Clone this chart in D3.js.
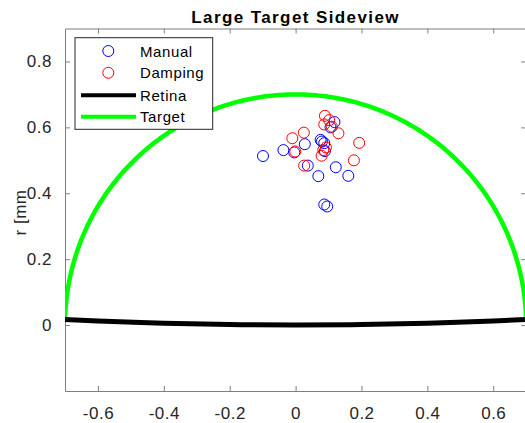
<!DOCTYPE html>
<html>
<head>
<meta charset="utf-8">
<script src="https://cdn.jsdelivr.net/npm/d3@7"></script>
<style>
  html, body { margin: 0; padding: 0; background: #fff; }
  svg { display: block; font-family: "Liberation Sans", Arial, sans-serif; }
</style>
</head>
<body>
<svg id="chart" width="525" height="423"></svg>
<script>
// Eye positions (lateral x, radial r in mm) for the two procedures
const manualX  = [-0.099, -0.037, -0.004, 0.028, 0.037, 0.069, 0.076, 0.080, 0.087, 0.089, 0.118, 0.106, 0.122, 0.160, 0.087, 0.096];
const manualR  = [ 0.513,  0.531,  0.524, 0.549, 0.484, 0.452, 0.562, 0.557, 0.552, 0.528, 0.616, 0.600, 0.479, 0.453, 0.366, 0.360];
const dampingX = [-0.010, 0.025, -0.001, 0.026, 0.089, 0.102, 0.087, 0.110, 0.130, 0.092, 0.084, 0.079, 0.193, 0.177];
const dampingR = [ 0.567, 0.584,  0.527, 0.484, 0.635, 0.622, 0.609, 0.602, 0.582, 0.539, 0.531, 0.514, 0.553, 0.500];

// Retina surface profile
const retinaX = [-0.7, -0.6, -0.4, -0.2, 0, 0.2, 0.4, 0.6, 0.7];
const retinaR = [0.017, 0.0125, 0.0055, 0.0015, 0, 0.0015, 0.0055, 0.0125, 0.017];

// Target hemisphere
const targetRadius = 0.7;
const targetBase = 0.025;

const xTicks = [-0.6, -0.4, -0.2, 0, 0.2, 0.4, 0.6];
const yTicks = [0, 0.2, 0.4, 0.6, 0.8];
const xDomain = [-0.7, 0.7];
const yDomain = [-0.2, 0.9];

const legendItems = [
  { label: "Manual",  kind: "marker", color: "#0000ff" },
  { label: "Damping", kind: "marker", color: "#ff0000" },
  { label: "Retina",  kind: "line",   color: "#000000" },
  { label: "Target",  kind: "line",   color: "#00ff00" }
];

const svg = d3.select("#chart");
const plotLeft = 65, plotRight = 526.2, plotTop = 28.5, plotBottom = 391;

const x = d3.scaleLinear().domain(xDomain).range([plotLeft, plotRight]);
const y = d3.scaleLinear().domain(yDomain).range([plotBottom, plotTop]);

svg.append("defs").append("clipPath").attr("id", "plotClip")
  .append("rect").attr("x", plotLeft).attr("y", plotTop)
  .attr("width", plotRight - plotLeft).attr("height", plotBottom - plotTop);

const axisColor = "#7f7f7f";
const textColor = "#262626";
const tickLabel = d => String(d);   // plain hyphen-minus for negatives

// Box axes with inward ticks
function styleAxis(g) {
  g.selectAll("path.domain").attr("stroke", axisColor).attr("stroke-width", 1);
  g.selectAll(".tick line").attr("stroke", axisColor).attr("stroke-width", 1);
  g.selectAll(".tick text").attr("fill", textColor)
    .style("font-size", "17px").style("letter-spacing", "0.5px");
}

const xAxis = svg.append("g").attr("transform", `translate(0,${plotBottom})`)
  .call(d3.axisBottom(x).tickValues(xTicks).tickSizeInner(-5).tickSizeOuter(0)
        .tickPadding(20).tickFormat(tickLabel));
styleAxis(xAxis);
xAxis.selectAll(".tick text").attr("dy", "0.45em");

const xTop = svg.append("g").attr("transform", `translate(0,${plotTop})`)
  .call(d3.axisTop(x).tickValues(xTicks).tickSizeInner(-5).tickSizeOuter(0).tickFormat(""));
styleAxis(xTop);

const yAxis = svg.append("g").attr("transform", `translate(${plotLeft},0)`)
  .call(d3.axisLeft(y).tickValues(yTicks).tickSizeInner(-5).tickSizeOuter(0)
        .tickPadding(13).tickFormat(tickLabel));
styleAxis(yAxis);

const yRight = svg.append("g").attr("transform", `translate(${plotRight},0)`)
  .call(d3.axisRight(y).tickValues(yTicks).tickSizeInner(-5).tickSizeOuter(0).tickFormat(""));
styleAxis(yRight);

// Data layer
const plot = svg.append("g").attr("clip-path", "url(#plotClip)");

plot.selectAll("circle.manual").data(d3.zip(manualX, manualR)).join("circle")
  .attr("class", "manual")
  .attr("cx", d => x(d[0])).attr("cy", d => y(d[1])).attr("r", 5.5)
  .attr("fill", "none").attr("stroke", "#0000ff").attr("stroke-width", 1);

plot.selectAll("circle.damping").data(d3.zip(dampingX, dampingR)).join("circle")
  .attr("class", "damping")
  .attr("cx", d => x(d[0])).attr("cy", d => y(d[1])).attr("r", 5.5)
  .attr("fill", "none").attr("stroke", "#ff0000").attr("stroke-width", 1);

plot.append("path")
  .datum(d3.zip(retinaX, retinaR))
  .attr("d", d3.line().x(d => x(d[0])).y(d => y(d[1])).curve(d3.curveCatmullRom))
  .attr("fill", "none").attr("stroke", "#000").attr("stroke-width", 5);

// Target arc sampled over the hemisphere above the base
const a0 = Math.asin(targetBase / targetRadius);
const arcPts = d3.range(0, 181).map(i => {
  const a = a0 + (Math.PI - 2 * a0) * i / 180;
  return [targetRadius * Math.cos(a), targetRadius * Math.sin(a)];
});
plot.append("path")
  .datum(arcPts)
  .attr("d", d3.line().x(d => x(d[0])).y(d => y(d[1])))
  .attr("fill", "none").attr("stroke", "#00ff00").attr("stroke-width", 4.5);

// Title and axis label
svg.append("text")
  .attr("x", (plotLeft + plotRight) / 2).attr("y", 22.7)
  .attr("text-anchor", "middle")
  .style("font-size", "17px").style("font-weight", "bold").style("letter-spacing", "1.4px")
  .attr("fill", "#000")
  .text("Large Target Sideview");

svg.append("text")
  .attr("transform", "translate(26,212.5) rotate(-90)")
  .attr("text-anchor", "middle")
  .style("font-size", "17px").style("letter-spacing", "0.5px")
  .attr("fill", textColor)
  .text("r [mm");

// Legend
const lg = svg.append("g");
lg.append("rect").attr("x", 75).attr("y", 37.7).attr("width", 137.7).attr("height", 91.6)
  .attr("fill", "#fff").attr("stroke", "#262626").attr("stroke-width", 1);

const rowY = [51, 72.8, 95.3, 116.8];
legendItems.forEach((item, i) => {
  const cy = rowY[i];
  if (item.kind === "marker") {
    lg.append("circle").attr("cx", 108.3).attr("cy", cy).attr("r", 5.5)
      .attr("fill", "none").attr("stroke", item.color).attr("stroke-width", 1);
  } else {
    lg.append("line").attr("x1", 81).attr("x2", 136).attr("y1", cy).attr("y2", cy)
      .attr("stroke", item.color).attr("stroke-width", 4);
  }
  lg.append("text").attr("x", 140).attr("y", cy + 5.6)
    .style("font-size", "15px").style("letter-spacing", "0.6px")
    .attr("fill", "#000")
    .text(item.label);
});
</script>
</body>
</html>
